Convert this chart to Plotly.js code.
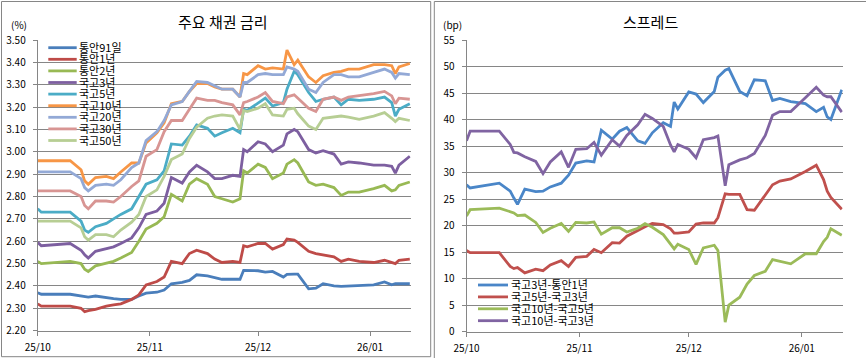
<!DOCTYPE html>
<html><head><meta charset="utf-8">
<script src="https://cdn.plot.ly/plotly-3.0.1.min.js"></script>
<style>html,body{margin:0;padding:0;background:#fff}#chart{width:866px;height:358px}</style>
</head><body><div id="chart"></div><script>
const dates = ['2025-10-01','2025-10-02','2025-10-10','2025-10-13','2025-10-14','2025-10-15','2025-10-17','2025-10-20','2025-10-22','2025-10-24','2025-10-27','2025-10-29','2025-10-31',
'2025-11-03','2025-11-05','2025-11-07','2025-11-10','2025-11-12','2025-11-14','2025-11-17','2025-11-19','2025-11-21','2025-11-24','2025-11-26','2025-11-27','2025-11-28',
'2025-12-01','2025-12-03','2025-12-05','2025-12-08','2025-12-09','2025-12-11','2025-12-12','2025-12-15','2025-12-17','2025-12-19','2025-12-22','2025-12-24','2025-12-26','2025-12-29',
'2026-01-02','2026-01-05','2026-01-07','2026-01-08','2026-01-09','2026-01-12'];

const rateNames = ['통안91일','통안1년','통안2년','국고3년','국고5년','국고10년','국고20년','국고30년','국고50년'];
const rateColors = ['#4A7EBB','#BE4B48','#98B954','#7D5FA0','#4BACC6','#F79646','#93A9D6','#D89593','#B7CE94'];

const msb91d = [2.370,2.363,2.363,2.355,2.350,2.350,2.355,2.347,2.343,2.340,2.340,2.355,2.368,2.372,2.382,2.410,2.416,2.425,2.450,2.445,2.437,2.430,2.430,2.430,2.470,2.470,2.468,2.462,2.465,2.440,2.452,2.453,2.453,2.387,2.390,2.410,2.400,2.398,2.400,2.400,2.405,2.418,2.405,2.410,2.410,2.410];
const msb1y = [2.320,2.310,2.310,2.300,2.285,2.290,2.295,2.310,2.315,2.320,2.340,2.360,2.405,2.420,2.440,2.510,2.500,2.545,2.560,2.545,2.520,2.505,2.510,2.505,2.580,2.575,2.590,2.590,2.565,2.585,2.610,2.605,2.595,2.555,2.545,2.540,2.530,2.510,2.520,2.510,2.505,2.515,2.505,2.500,2.515,2.520];
const msb2y = [2.510,2.500,2.510,2.500,2.475,2.465,2.490,2.500,2.510,2.525,2.550,2.600,2.655,2.680,2.710,2.810,2.780,2.855,2.880,2.855,2.800,2.790,2.775,2.790,2.915,2.905,2.945,2.930,2.880,2.905,2.945,2.965,2.950,2.865,2.850,2.855,2.840,2.805,2.820,2.820,2.835,2.850,2.825,2.830,2.850,2.865];
const ktb3y = [2.595,2.580,2.590,2.560,2.540,2.525,2.555,2.565,2.575,2.590,2.615,2.660,2.720,2.735,2.770,2.885,2.860,2.910,2.940,2.910,2.880,2.880,2.895,2.890,3.010,3.000,3.045,3.035,3.000,3.030,3.080,3.100,3.090,3.010,2.995,3.005,2.990,2.945,2.955,2.950,2.940,2.940,2.935,2.905,2.940,2.980];
const ktb5y = [2.745,2.730,2.730,2.690,2.650,2.640,2.665,2.680,2.700,2.720,2.745,2.800,2.855,2.875,2.915,3.035,3.030,3.070,3.120,3.105,3.070,3.085,3.105,3.085,3.190,3.185,3.220,3.240,3.205,3.220,3.280,3.360,3.345,3.265,3.225,3.235,3.245,3.210,3.235,3.230,3.235,3.245,3.220,3.160,3.190,3.215];
const ktb10y = [2.960,2.960,2.960,2.920,2.870,2.855,2.885,2.890,2.880,2.910,2.950,2.950,3.040,3.085,3.130,3.215,3.225,3.270,3.305,3.305,3.290,3.280,3.280,3.245,3.350,3.345,3.385,3.370,3.375,3.370,3.455,3.390,3.410,3.335,3.310,3.340,3.355,3.360,3.370,3.370,3.390,3.390,3.385,3.350,3.380,3.395];
const ktb20y = [2.910,2.910,2.910,2.880,2.840,2.825,2.850,2.855,2.850,2.875,2.930,2.950,3.050,3.090,3.140,3.210,3.225,3.270,3.315,3.310,3.295,3.280,3.280,3.245,3.310,3.310,3.345,3.350,3.345,3.345,3.380,3.370,3.360,3.280,3.265,3.310,3.345,3.345,3.335,3.335,3.355,3.370,3.355,3.330,3.350,3.345];
const ktb30y = [2.825,2.825,2.825,2.800,2.760,2.745,2.780,2.780,2.775,2.800,2.845,2.870,2.980,3.010,3.090,3.140,3.140,3.190,3.240,3.230,3.230,3.220,3.210,3.165,3.220,3.225,3.245,3.265,3.225,3.215,3.245,3.255,3.240,3.195,3.180,3.235,3.245,3.230,3.245,3.250,3.260,3.270,3.250,3.215,3.240,3.235];
const ktb50y = [2.690,2.690,2.690,2.660,2.620,2.605,2.630,2.630,2.620,2.650,2.685,2.720,2.800,2.830,2.890,2.965,2.990,3.060,3.110,3.150,3.160,3.165,3.160,3.100,3.185,3.180,3.195,3.215,3.165,3.160,3.190,3.195,3.170,3.115,3.100,3.150,3.155,3.160,3.155,3.145,3.160,3.175,3.150,3.135,3.150,3.140];

const spreadNames = ['국고3년-통안1년','국고5년-국고3년','국고10년-국고5년','국고10년-국고3년'];
const spreadColors = ['#4A86C8','#C0504D','#9BBB59','#8064A2'];
const spread3y1y = [27.7,27.1,28.0,26.5,25.2,24.0,26.9,26.4,26.5,27.3,28.0,29.5,31.8,32.2,32.0,38.0,36.3,37.8,38.5,36.0,35.5,37.5,39.4,38.7,43.3,42.0,45.2,44.8,43.2,45.3,48.0,49.3,49.6,45.3,44.5,47.5,47.3,43.6,44.0,43.4,43.0,41.5,42.3,40.5,40.0,45.6];
const spread5y3y = [15.3,14.9,14.9,12.3,11.9,12.1,11.1,11.8,11.5,12.6,13.4,12.3,14.0,14.2,15.5,14.9,16.8,16.7,18.0,19.1,19.8,20.4,20.2,19.4,18.6,18.6,18.8,20.3,20.5,20.5,21.5,26.0,25.9,25.9,23.0,22.9,25.7,27.7,28.4,28.8,30.2,31.4,28.7,26.5,25.3,23.1];
const spread10y5y = [21.8,23.0,23.3,22.6,22.4,21.9,22.0,20.6,18.7,19.5,20.4,18.9,20.6,20.5,20.7,18.4,19.6,19.6,18.8,19.5,20.4,19.7,18.3,16.5,15.6,16.5,15.5,12.7,15.8,16.3,15.3,1.8,5.0,6.5,9.0,10.6,11.4,13.6,13.3,12.8,14.7,14.7,17.0,17.8,19.4,18.2];
const spread10y3y = [36.0,37.8,37.8,35.3,33.8,33.7,33.0,32.1,29.8,32.0,33.9,31.0,34.4,34.5,35.7,33.3,36.2,35.0,37.0,39.0,41.0,40.2,38.7,35.2,33.9,35.3,34.4,32.8,36.2,36.6,36.9,27.5,31.5,32.4,32.8,33.6,37.0,40.8,41.5,41.5,44.1,46.1,44.6,44.3,44.3,41.4];

const xTickVals = ['2025-10-01','2025-11-01','2025-12-01','2026-01-01'];
const xTickText = ['25/10','25/11','25/12','26/01'];

const rateSeries = [msb91d,msb1y,msb2y,ktb3y,ktb5y,ktb10y,ktb20y,ktb30y,ktb50y];
const spreadSeries = [spread3y1y,spread5y3y,spread10y5y,spread10y3y];

const W = 866, H = 358;
const px = x => x / W;
const py = y => 1 - y / H;
const FONT = '"Noto Sans CJK KR", "Noto Sans", sans-serif';
const GRID = '#868686';

const traces = [];
rateSeries.forEach((s, i) => traces.push({
  x: dates, y: s, type: 'scatter', mode: 'lines', name: rateNames[i],
  line: {color: rateColors[i], width: 2.8}, xaxis: 'x', yaxis: 'y', showlegend: false
}));
spreadSeries.forEach((s, i) => traces.push({
  x: dates, y: s, type: 'scatter', mode: 'lines', name: spreadNames[i],
  line: {color: spreadColors[i], width: 2.8}, xaxis: 'x2', yaxis: 'y2', showlegend: false
}));

const shapes = [
  {type:'rect', xref:'paper', yref:'paper', x0:px(1.5), x1:px(430.7), y0:py(1.5), y1:py(356.7), line:{color:GRID, width:1}},
  {type:'rect', xref:'paper', yref:'paper', x0:px(434.3), x1:px(870), y0:py(1.5), y1:py(362), line:{color:GRID, width:1}}
];
const annotations = [
  {text:'주요 채권 금리', xref:'paper', yref:'paper', x:px(222.5), y:py(21.5), xanchor:'center', yanchor:'middle', showarrow:false, font:{family:FONT, size:15, color:'#000'}},
  {text:'스프레드', xref:'paper', yref:'paper', x:px(650), y:py(21.5), xanchor:'center', yanchor:'middle', showarrow:false, font:{family:FONT, size:15, color:'#000'}},
  {text:'(%)', xref:'paper', yref:'paper', x:px(18.5), y:py(24.5), xanchor:'center', yanchor:'middle', showarrow:false, font:{family:FONT, size:10, color:'#000'}},
  {text:'(bp)', xref:'paper', yref:'paper', x:px(452), y:py(24.5), xanchor:'center', yanchor:'middle', showarrow:false, font:{family:FONT, size:10, color:'#000'}}
];
rateNames.forEach((n, i) => {
  const yy = 47.7 + i * 11.6;
  shapes.push({type:'line', xref:'paper', yref:'paper', x0:px(48.3), x1:px(76.7), y0:py(yy), y1:py(yy), line:{color:rateColors[i], width:2.8}});
  annotations.push({text:n, xref:'paper', yref:'paper', x:px(77.3), y:py(yy - 1), xanchor:'left', yanchor:'middle', showarrow:false, font:{family:FONT, size:11, color:'#000'}});
});
spreadNames.forEach((n, i) => {
  const yy = 285 + i * 11.9;
  shapes.push({type:'line', xref:'paper', yref:'paper', x0:px(478), x1:px(508), y0:py(yy), y1:py(yy), line:{color:spreadColors[i], width:2.8}});
  annotations.push({text:n, xref:'paper', yref:'paper', x:px(509), y:py(yy - 1), xanchor:'left', yanchor:'middle', showarrow:false, font:{family:FONT, size:11, color:'#000'}});
});

const xRange = ['2025-10-01', '2026-01-12 06:00'];
const xBase = {
  type:'date', range:xRange, tickvals:xTickVals, ticktext:xTickText,
  showgrid:false, zeroline:false, showline:true, linecolor:GRID, linewidth:1,
  ticks:'outside', ticklen:4, tickcolor:GRID, ticklabelstandoff:3,
  tickfont:{family:FONT, size:10, color:'#000'}, fixedrange:true
};
const yBase = {
  showgrid:true, gridcolor:GRID, gridwidth:1, zeroline:false, showline:true, linecolor:GRID, linewidth:1,
  ticks:'outside', ticklen:4, tickcolor:GRID, ticklabelstandoff:5,
  tickfont:{family:FONT, size:10, color:'#000'}, fixedrange:true
};

const layout = {
  width:W, height:H, margin:{l:0, r:0, t:0, b:0},
  paper_bgcolor:'#fff', plot_bgcolor:'#fff', showlegend:false,
  font:{family:FONT, color:'#000'},
  xaxis: Object.assign({}, xBase, {domain:[px(37.7), px(410.7)], anchor:'y'}),
  yaxis: Object.assign({}, yBase, {domain:[py(330.7), py(40)], anchor:'x', range:[2.2, 3.5], dtick:0.1, tick0:2.2, tickformat:'.2f'}),
  xaxis2: Object.assign({}, xBase, {domain:[px(466.5), px(842.7)], anchor:'y2'}),
  yaxis2: Object.assign({}, yBase, {domain:[py(331.7), py(40)], anchor:'x2', range:[0, 55], dtick:5, tick0:0}),
  shapes: shapes, annotations: annotations
};

Plotly.newPlot('chart', traces, layout, {displayModeBar:false, staticPlot:true});
</script></body></html>
